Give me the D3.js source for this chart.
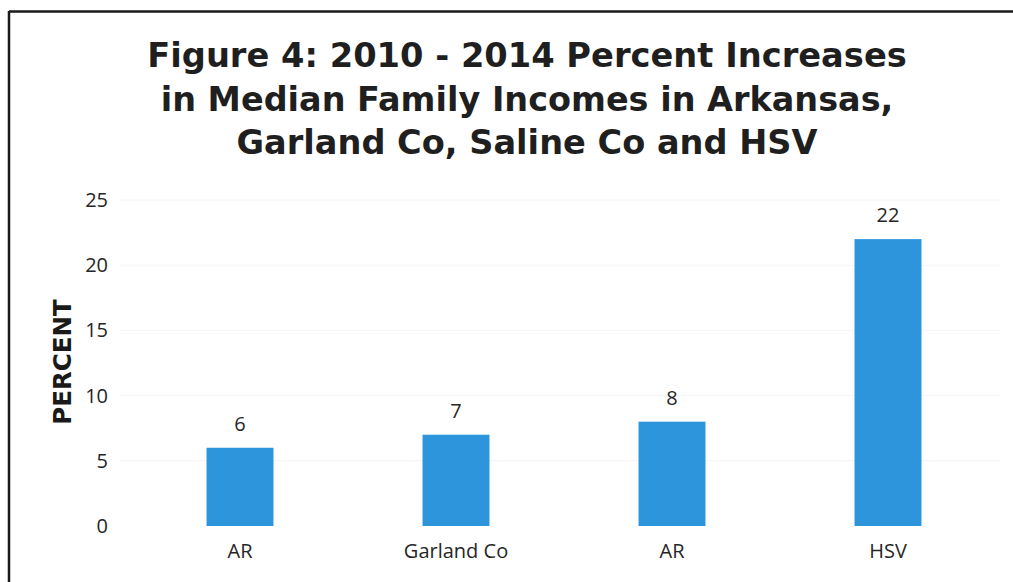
<!DOCTYPE html>
<html>
<head>
<meta charset="utf-8">
<script src="https://cdn.jsdelivr.net/npm/d3@7"></script>
<style>
  html, body { margin: 0; padding: 0; background: #fff; }
  svg { display: block; }
</style>
</head>
<body>
<svg id="chart" width="1013" height="582"></svg>
<script>
// Percent increase in median family income, 2010 - 2014
const categories = ["AR", "Garland Co", "AR ", "HSV"];
const categoryLabels = ["AR", "Garland Co", "AR", "HSV"];
const values = [6, 7, 8, 22];
const yTicks = [0, 5, 10, 15, 20, 25];
const titleLines = [
  "Figure 4: 2010 - 2014 Percent Increases",
  "in Median Family Incomes in Arkansas,",
  "Garland Co, Saline Co and HSV"
];
const yAxisTitle = "PERCENT";

const svg = d3.select("#chart");
const W = 1013, H = 582;

// frame
svg.append("line").attr("x1", 9).attr("x2", W).attr("y1", 11.5).attr("y2", 11.5)
  .attr("stroke", "#1a1a1a").attr("stroke-width", 2.5);
svg.append("line").attr("x1", 9).attr("x2", 9).attr("y1", 11).attr("y2", H)
  .attr("stroke", "#1a1a1a").attr("stroke-width", 2.5);

// title, each line fitted to its target width
const titleFont = "'DejaVu Sans', Verdana, sans-serif";
const titleWidths = [760, 733, 581];
const baselines = [67, 111, 154];
titleLines.forEach((t, i) => {
  const txt = svg.append("text")
    .attr("x", 527).attr("y", baselines[i])
    .attr("text-anchor", "middle")
    .attr("font-family", titleFont)
    .attr("font-weight", "bold")
    .attr("font-size", 34)
    .attr("fill", "#1f1f1f")
    .text(t);
  const w = txt.node().getComputedTextLength();
  txt.attr("font-size", 34 * titleWidths[i] / w);
  const w2 = txt.node().getComputedTextLength();
  if (Math.abs(w2 - titleWidths[i]) > 4) {
    txt.attr("textLength", titleWidths[i]).attr("lengthAdjust", "spacingAndGlyphs");
  }
});

// scales
const x = d3.scaleBand().domain(categories).range([132, 996]).paddingInner(0.69).paddingOuter(0.345);
const y = d3.scaleLinear().domain([0, 25]).range([526, 200]);

const labelFont = "'Open Sans', 'Noto Sans', sans-serif";

// faint gridlines
svg.append("g").selectAll("line").data(yTicks.slice(1)).join("line")
  .attr("x1", 120).attr("x2", 1000)
  .attr("y1", d => y(d)).attr("y2", d => y(d))
  .attr("stroke", "#f4f4f4").attr("stroke-width", 1);

// y axis
const yAxis = d3.axisLeft(y).tickValues(yTicks).tickSize(0).tickPadding(0);
const gy = svg.append("g").attr("transform", "translate(108,0)").call(yAxis);
gy.select(".domain").remove();
gy.selectAll("text")
  .attr("font-family", labelFont).attr("font-size", 20).attr("fill", "#262626");

// y axis title
svg.append("text")
  .attr("transform", "translate(71,362) rotate(-90)")
  .attr("text-anchor", "middle")
  .attr("font-family", titleFont).attr("font-weight", "bold")
  .attr("font-size", 24.5).attr("fill", "#1a1a1a")
  .text(yAxisTitle);

// x axis
const xAxis = d3.axisBottom(x).tickSize(0).tickPadding(0)
  .tickFormat((d, i) => categoryLabels[i]);
const gx = svg.append("g").attr("transform", "translate(0,544)").call(xAxis);
gx.select(".domain").remove();
gx.selectAll("text")
  .attr("font-family", labelFont).attr("font-size", 20).attr("fill", "#262626")
  .attr("dy", "0.71em");

// bars
const data = categories.map((c, i) => ({ c, v: values[i] }));
svg.append("g").selectAll("rect").data(data).join("rect")
  .attr("x", d => x(d.c))
  .attr("width", x.bandwidth())
  .attr("y", d => y(d.v))
  .attr("height", d => y(0) - y(d.v))
  .attr("fill", "#2c95dc");

// value labels
svg.append("g").selectAll("text").data(data).join("text")
  .attr("x", d => x(d.c) + x.bandwidth() / 2)
  .attr("y", d => y(d.v) - 17)
  .attr("text-anchor", "middle")
  .attr("font-family", labelFont).attr("font-size", 20).attr("fill", "#262626")
  .text(d => d.v);
</script>
</body>
</html>
